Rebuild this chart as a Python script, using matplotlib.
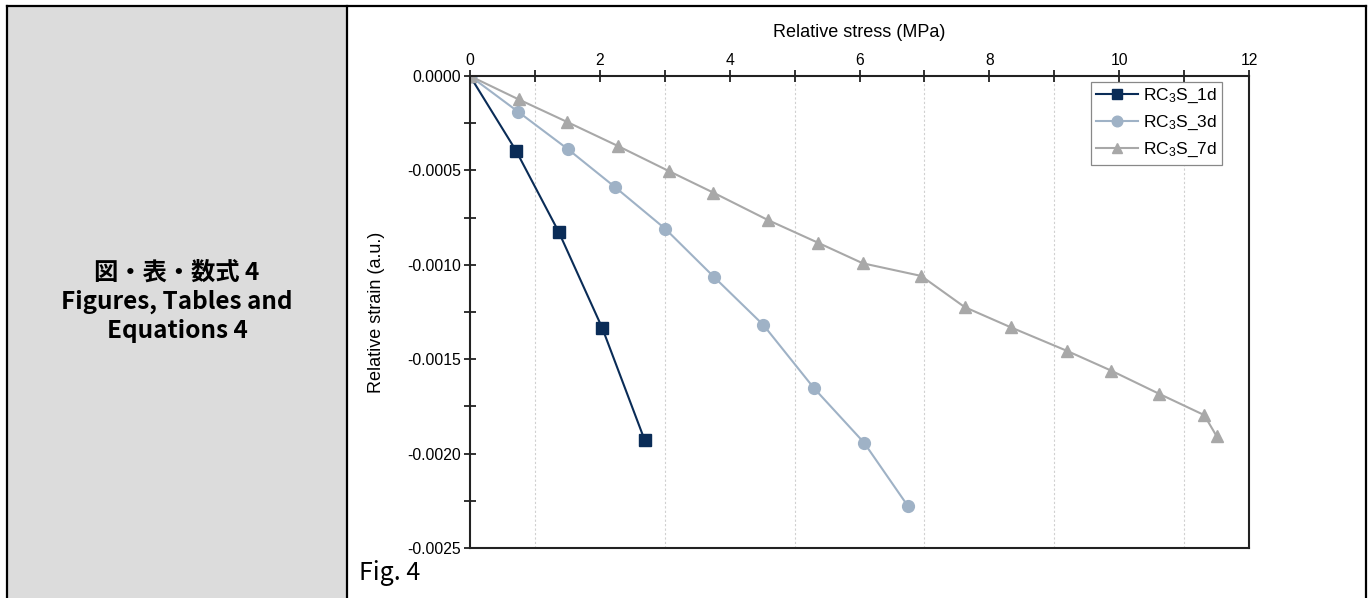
import matplotlib
matplotlib.use("Agg")
import matplotlib.pyplot as plt
from matplotlib.ticker import MultipleLocator
from matplotlib.patches import Rectangle
from matplotlib.lines import Line2D

# data
stress_1d = [0, 0.71, 1.37, 2.04, 2.69]
strain_1d = [0, -0.000396, -0.000828, -0.001337, -0.001928]

stress_3d = [0, 0.74, 1.51, 2.24, 3.01, 3.76, 4.52, 5.30, 6.07, 6.75]
strain_3d = [0, -0.000189, -0.000388, -0.000590, -0.000810, -0.001065,
             -0.001319, -0.001654, -0.001942, -0.002280]

stress_7d = [0, 0.75, 1.50, 2.28, 3.06, 3.75, 4.59, 5.36, 6.05, 6.95,
             7.62, 8.33, 9.19, 9.88, 10.62, 11.31, 11.50]
strain_7d = [0, -0.000124, -0.000244, -0.000371, -0.000503, -0.000618,
             -0.000763, -0.000883, -0.000992, -0.001059, -0.001224,
             -0.001331, -0.001455, -0.001561, -0.001684, -0.001796, -0.001907]

labels = [r'RC$\mathregular{_3}$S_1d', r'RC$\mathregular{_3}$S_3d', r'RC$\mathregular{_3}$S_7d']
colors = ['#0a2c57', '#9fb2c6', '#a8a8a8']
markers = ['s', 'o', '^']

plt.rcParams['font.family'] = ['Liberation Sans']

W, H = 1371, 598
fig = plt.figure(figsize=(W / 100, H / 100), dpi=100)

# table frame
fig.patches.append(Rectangle((7 / W, 0), (347 - 7) / W, 1 - 6 / H,
                             transform=fig.transFigure, facecolor='#dcdcdc',
                             edgecolor='none', zorder=0))
for xs, ys in [([7, 1366], [6, 6]), ([7, 7], [6, 598]),
               ([347, 347], [6, 598]), ([1366, 1366], [6, 598])]:
    fig.add_artist(Line2D([x / W for x in xs], [1 - y / H for y in ys],
                          transform=fig.transFigure, color='black', lw=1.6))

fig.text(177 / W, 1 - 302 / H, '図・表・数式 4\nFigures, Tables and\nEquations 4',
         ha='center', va='center', fontsize=17.5, fontweight='bold',
         family=['Noto Sans CJK JP', 'DejaVu Sans'], linespacing=1.25)
fig.text(359 / W, 1 - 573 / H, 'Fig. 4', ha='left', va='center', fontsize=18,
         family=['Noto Sans CJK JP', 'DejaVu Sans'])

ax = fig.add_axes([470 / W, 1 - 548 / H, (1249 - 470) / W, (548 - 76) / H])

series = [(stress_1d, strain_1d), (stress_3d, strain_3d), (stress_7d, strain_7d)]
for (x, y), lab, c, m in zip(series, labels, colors, markers):
    ax.plot(x, y, color=c, marker=m, markersize=8 if m != 'o' else 8.5,
            lw=1.5, label=lab, markeredgecolor=c)

ax.set_xlim(0, 12)
ax.set_ylim(-0.0025, 0)
ax.xaxis.set_major_locator(MultipleLocator(2))
ax.xaxis.set_minor_locator(MultipleLocator(1))
ax.yaxis.set_major_locator(MultipleLocator(0.0005))
ax.yaxis.set_minor_locator(MultipleLocator(0.00025))
ax.yaxis.set_major_formatter(plt.FormatStrFormatter('%.4f'))
ax.xaxis.tick_top()
ax.xaxis.set_label_position('top')
for which in ['major', 'minor']:
    ax.tick_params(axis='both', which=which, direction='inout', length=9,
                   width=1.3, color='#222222')
ax.tick_params(axis='both', which='major', labelsize=11.3, pad=2)
ax.tick_params(axis='x', which='major', pad=1)
for s in ax.spines.values():
    s.set_linewidth(1.5)
    s.set_color('#222222')
ax.grid(axis='x', which='minor', color='#d0d0d0', lw=0.8, ls=(0, (2, 2)))

ax.set_xlabel('Relative stress (MPa)', fontsize=13, labelpad=12)
ax.set_ylabel('Relative strain (a.u.)', fontsize=13, labelpad=16)

leg = ax.legend(loc='upper right', bbox_to_anchor=((1222 - 470) / (1249 - 470), 1 - 6 / 472),
                fancybox=False, framealpha=1, edgecolor='#888888',
                prop={'size': 12.5},
                handlelength=2.4, borderpad=0.3, labelspacing=0.5,
                handletextpad=0.3, borderaxespad=0, markerscale=0.9)
leg.get_frame().set_linewidth(0.9)

fig.savefig('out.png', dpi=100)
